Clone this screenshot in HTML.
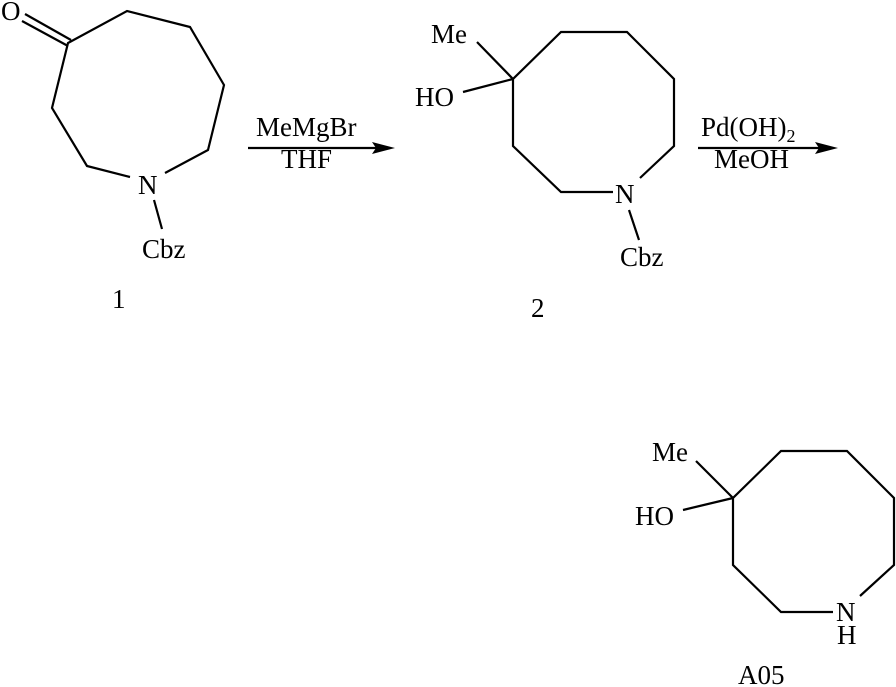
<!DOCTYPE html>
<html><head><meta charset="utf-8"><style>
html,body{margin:0;padding:0;background:#fff;}
svg{display:block;}
text{font-family:"Liberation Serif",serif;font-size:27px;fill:#000;}
</style></head><body>
<svg width="896" height="687" viewBox="0 0 896 687" xmlns="http://www.w3.org/2000/svg">
<g stroke="#000" stroke-width="2.2" fill="none" stroke-linejoin="miter">
<line x1="25" y1="14" x2="71" y2="40"/>
<line x1="22" y1="21" x2="68" y2="46"/>
<polyline points="130,177 87,166 52,108 68,43 127,11 190,27 224,85 208,150 165,173"/>
<line x1="154" y1="200" x2="162" y2="229"/>
<polyline points="613,192 561,192 513,146 513,79 561,32 627,32 674,79 674,146 640,178"/>
<line x1="477" y1="42" x2="513" y2="79"/>
<line x1="463" y1="92" x2="513" y2="79"/>
<line x1="629" y1="210" x2="639" y2="240"/>
<polyline points="833,612 781,612 733,565 733,498 781,451 847,451 894,498 894,565 860,596"/>
<line x1="696" y1="461" x2="733" y2="498"/>
<line x1="683" y1="510" x2="733" y2="498"/>
<line x1="248" y1="148" x2="378" y2="148"/>
<line x1="698" y1="148" x2="820" y2="148"/>
</g>
<polygon points="372,142 395,148 372,154 376,148" fill="#000"/>
<polygon points="815,142 838,148 815,154 819,148" fill="#000"/>
<text x="1" y="20">O</text>
<text x="138" y="194">N</text>
<text x="142" y="258">Cbz</text>
<text x="112" y="308">1</text>
<text x="431" y="43">Me</text>
<text x="415" y="106">HO</text>
<text x="615" y="203">N</text>
<text x="620" y="266">Cbz</text>
<text x="531" y="317">2</text>
<text x="652" y="461">Me</text>
<text x="635" y="525">HO</text>
<text x="836" y="621">N</text>
<text x="837" y="644">H</text>
<text x="738" y="684">A05</text>
<text x="256" y="136">MeMgBr</text>
<text x="281" y="168">THF</text>
<text x="701" y="136">Pd(OH)<tspan font-size="18" dy="6">2</tspan></text>
<text x="714" y="168">MeOH</text>
</svg>
</body></html>
